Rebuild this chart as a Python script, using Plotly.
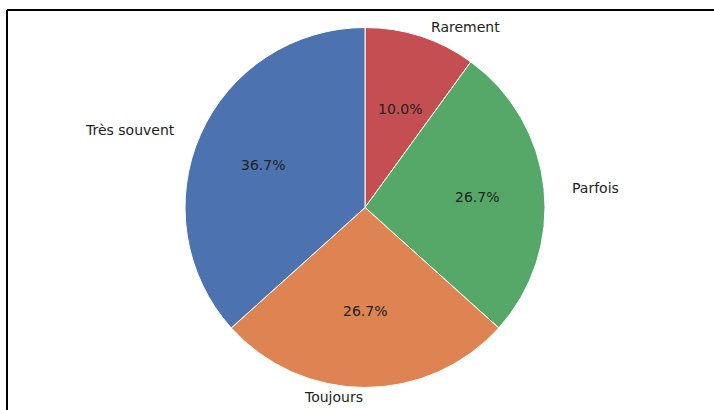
import numpy as np
import plotly.graph_objects as go

# Response categories and counts (30 responses in total)
labels = ["Très souvent", "Toujours", "Parfois", "Rarement"]
counts = [11, 8, 8, 3]
colors = ["#4C72B0", "#DD8452", "#55A868", "#C44E52"]

W, H = 714, 410
cx, cy = 365.0, 207.5      # pie centre in pixels (from top-left)
r = 180.0                  # pie radius in pixels
rx_txt, ry_txt = 187.0, 172.5  # radii used to place the texts

def px(x):
    return x / W

def py(y):
    return 1 - y / H

# Slices run counterclockwise from 12 o'clock; plotly draws them clockwise
# from 12 o'clock, so the order is reversed for the trace.
fig = go.Figure()
fig.add_trace(go.Pie(
    labels=labels[::-1],
    values=counts[::-1],
    sort=False,
    direction="clockwise",
    rotation=0,
    marker=dict(colors=colors[::-1], line=dict(color="white", width=1)),
    textinfo="none",
    hoverinfo="label+percent",
    showlegend=False,
    domain=dict(x=[px(cx - r), px(cx + r)], y=[py(cy + r), py(cy - r)]),
))

# Category labels outside the pie and percentages inside, placed like matplotlib's autopct
vals = np.array(counts, dtype=float)
total = vals.sum()
cum = np.cumsum(vals)
mid_deg = 90 + 360 * (cum - vals / 2) / total
annotations = []
font = dict(family="DejaVu Sans", size=14, color="#222222")
for lab, v, a in zip(labels, vals, mid_deg):
    c, s = np.cos(np.radians(a)), np.sin(np.radians(a))
    lx = cx + 1.1 * rx_txt * c
    ly = cy - 1.1 * ry_txt * s
    annotations.append(dict(
        x=px(lx), y=py(ly), xref="paper", yref="paper",
        text=lab, showarrow=False, font=font,
        xanchor="left" if c > 0 else "right", yanchor="middle",
    ))
    tx = cx + 0.6 * rx_txt * c
    ty = cy - 0.6 * ry_txt * s
    annotations.append(dict(
        x=px(tx), y=py(ty), xref="paper", yref="paper",
        text=f"{100 * v / total:.1f}%", showarrow=False, font=font,
        xanchor="center", yanchor="middle",
    ))

# Frame lines along the top and left edges
shapes = [
    dict(type="line", xref="paper", yref="paper",
         x0=px(7), y0=py(10), x1=1.0, y1=py(10),
         line=dict(color="black", width=2)),
    dict(type="line", xref="paper", yref="paper",
         x0=px(7), y0=py(10), x1=px(7), y1=0.0,
         line=dict(color="black", width=2)),
]

fig.update_layout(
    width=W, height=H,
    margin=dict(l=0, r=0, t=0, b=0),
    paper_bgcolor="white",
    plot_bgcolor="white",
    annotations=annotations,
    shapes=shapes,
)

fig.write_html("out.html")
